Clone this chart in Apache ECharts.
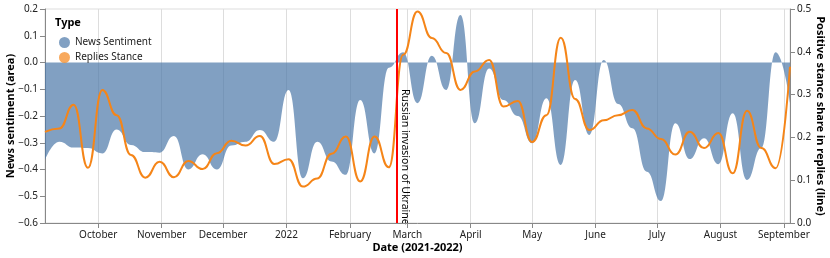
<!DOCTYPE html>
<html>
<head>
<meta charset="utf-8">
<script src="https://cdn.jsdelivr.net/npm/echarts@6/dist/echarts.min.js"></script>
<style>
html,body{margin:0;padding:0;background:#fff;}
#chart{width:830px;height:258px;}
</style>
</head>
<body>
<div id="chart"></div>
<script>
// Weekly dates
const dates = [
  '2021-09-05','2021-09-12','2021-09-19','2021-09-26','2021-10-03','2021-10-10','2021-10-17','2021-10-24','2021-10-31',
  '2021-11-07','2021-11-14','2021-11-21','2021-11-28','2021-12-05','2021-12-12','2021-12-19','2021-12-26',
  '2022-01-02','2022-01-09','2022-01-16','2022-01-23','2022-01-30','2022-02-06','2022-02-13','2022-02-20','2022-02-27',
  '2022-03-06','2022-03-13','2022-03-20','2022-03-27','2022-04-03','2022-04-10','2022-04-17','2022-04-24',
  '2022-05-01','2022-05-08','2022-05-15','2022-05-22','2022-05-29','2022-06-05','2022-06-12','2022-06-19','2022-06-26',
  '2022-07-03','2022-07-10','2022-07-17','2022-07-24','2022-07-31','2022-08-07','2022-08-14','2022-08-21','2022-08-28',
  '2022-09-04'
];
// News sentiment (area, left axis)
const newsSentiment = [
  -0.364,-0.296,-0.318,-0.320,-0.340,-0.250,-0.308,-0.335,-0.337,
  -0.275,-0.400,-0.343,-0.400,-0.310,-0.296,-0.252,-0.296,
  -0.103,-0.433,-0.296,-0.370,-0.420,-0.140,-0.340,-0.020,0.038,
  -0.152,0.025,-0.103,0.178,-0.227,-0.022,-0.140,-0.200,
  -0.302,-0.134,-0.383,-0.065,-0.271,0.009,-0.155,-0.246,-0.408,
  -0.518,-0.227,-0.361,-0.283,-0.380,-0.190,-0.439,-0.320,0.038,
  -0.150
];
// Replies stance (line, right axis)
const repliesStance = [
  0.213,0.221,0.276,0.129,0.311,0.252,0.159,0.106,0.143,
  0.107,0.145,0.126,0.163,0.192,0.181,0.203,0.138,
  0.149,0.085,0.104,0.162,0.202,0.097,0.202,0.130,0.393,
  0.494,0.432,0.397,0.311,0.354,0.381,0.272,0.285,
  0.189,0.252,0.433,0.290,0.217,0.240,0.252,0.264,0.221,
  0.196,0.160,0.213,0.175,0.210,0.116,0.262,0.175,0.128,
  0.365
];
const xMin = '2021-09-05';
const xMax = '2022-09-04';
const invasionDate = '2022-02-24';
const invasionLabel = 'Russian invasion of Ukraine';
const monthNames = ['January','February','March','April','May','June','July','August','September','October','November','December'];
const leftTicks = {min: -0.6, max: 0.2, interval: 0.1};
const rightTicks = {min: 0, max: 0.5, interval: 0.1};

const FONT = 'Noto Sans';
const chart = echarts.init(document.getElementById('chart'), null, {renderer: 'canvas'});

function fmt(v) {
  const s = Math.abs(v).toFixed(1);
  return (v < -1e-9 ? '\u2212' : '') + s;
}

const option = {
  animation: false,
  textStyle: {fontFamily: FONT},
  grid: {left: 45, right: 40, top: 9, bottom: 35, show: true, borderColor: '#ddd', borderWidth: 1,
         containLabel: false, outerBoundsMode: 'none'},
  legend: {
    orient: 'vertical', left: 54, top: 32,
    itemWidth: 11, itemHeight: 11, itemGap: 4, icon: 'circle',
    itemStyle: {opacity: 0.7},
    textStyle: {fontSize: 10, color: '#222', fontFamily: FONT},
    data: ['News Sentiment', 'Replies Stance']
  },
  xAxis: {
    type: 'time', min: xMin, max: xMax,
    minInterval: 28 * 86400000, maxInterval: 31 * 86400000,
    name: 'Date (2021-2022)', nameLocation: 'middle', nameGap: 19, nameMoveOverlap: false,
    nameTextStyle: {fontSize: 11, fontWeight: 'bold', color: '#000', fontFamily: FONT},
    axisLine: {show: true, onZero: false, lineStyle: {color: '#888', width: 1}},
    axisTick: {show: true, length: 5, lineStyle: {color: '#888'}},
    splitLine: {show: true, lineStyle: {color: '#ddd', width: 1}},
    axisLabel: {
      fontSize: 10, color: '#222', margin: 7, fontFamily: FONT,
      showMinLabel: false, showMaxLabel: false,
      formatter: function (val) {
        const d = new Date(val);
        if (d.getDate() !== 1) return '';
        return d.getMonth() === 0 ? String(d.getFullYear()) : monthNames[d.getMonth()];
      }
    }
  },
  yAxis: [{
    type: 'value', min: leftTicks.min, max: leftTicks.max, interval: leftTicks.interval,
    name: 'News sentiment (area)', nameLocation: 'middle', nameGap: 29, nameMoveOverlap: false,
    nameTextStyle: {fontSize: 11, fontWeight: 'bold', color: '#000', fontFamily: FONT},
    axisLine: {show: true, onZero: false, lineStyle: {color: '#888'}},
    axisTick: {show: true, length: 5, lineStyle: {color: '#888'}},
    splitLine: {show: false},
    axisLabel: {fontSize: 10, color: '#222', margin: 7, formatter: fmt, fontFamily: FONT}
  }, {
    type: 'value', min: rightTicks.min, max: rightTicks.max, interval: rightTicks.interval,
    position: 'right',
    name: 'Positive stance share in replies (line)', nameLocation: 'middle', nameGap: 25, nameRotate: -90,
    nameMoveOverlap: false,
    nameTextStyle: {fontSize: 11, fontWeight: 'bold', color: '#000', fontFamily: FONT},
    axisLine: {show: true, onZero: false, lineStyle: {color: '#888'}},
    axisTick: {show: true, length: 5, lineStyle: {color: '#888'}},
    splitLine: {show: false},
    axisLabel: {fontSize: 10, color: '#222', margin: 7, formatter: fmt, fontFamily: FONT}
  }],
  series: [{
    name: 'News Sentiment', type: 'line', yAxisIndex: 0,
    data: dates.map((d, i) => [d, newsSentiment[i]]),
    smooth: 0.5, smoothMonotone: 'x', showSymbol: false, symbol: 'none',
    itemStyle: {color: '#4c78a8'},
    lineStyle: {width: 0},
    areaStyle: {color: '#4c78a8', opacity: 0.7, origin: 0},
    markLine: {
      silent: true, symbol: ['none', 'none'],
      label: {show: false},
      lineStyle: {color: '#ff0000', width: 2, type: 'solid'},
      data: [{xAxis: invasionDate}]
    },
    z: 2
  }, {
    name: 'Replies Stance', type: 'line', yAxisIndex: 1,
    data: dates.map((d, i) => [d, repliesStance[i]]),
    smooth: 0.5, smoothMonotone: 'x', showSymbol: false, symbol: 'none',
    itemStyle: {color: '#f58518'},
    lineStyle: {color: '#f58518', width: 2},
    z: 3
  }]
};
chart.setOption(option);

const lx = chart.convertToPixel({xAxisIndex: 0}, invasionDate);
chart.setOption({
  graphic: [{
    type: 'text', left: 55, top: 17,
    style: {text: 'Type', fontSize: 11, fontWeight: 'bold', fill: '#000', fontFamily: FONT}
  }, {
    type: 'text', x: lx + 8, y: 89, rotation: -Math.PI / 2,
    style: {text: invasionLabel, fontSize: 10.5, fill: '#000', fontFamily: FONT, align: 'left', verticalAlign: 'middle'}
  }]
});
</script>
</body>
</html>
